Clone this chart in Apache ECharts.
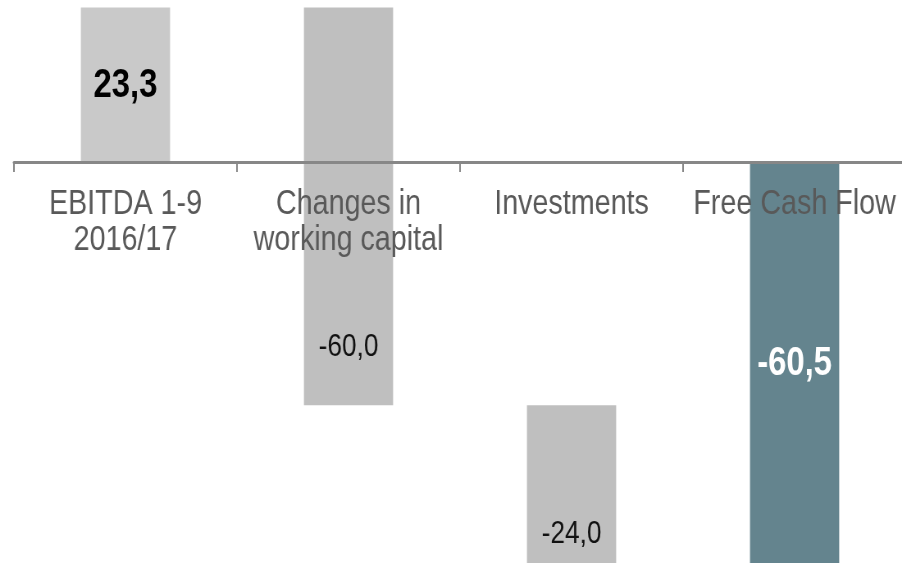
<!DOCTYPE html>
<html>
<head>
<meta charset="utf-8">
<script src="https://cdn.jsdelivr.net/npm/echarts@6/dist/echarts.min.js"></script>
<style>
  html, body { margin: 0; padding: 0; background: #fff; overflow: hidden; }
  #wrap { width: 902px; height: 563px; overflow: hidden; }
  /* the source uses a narrow font: draw wide, squeeze horizontally */
  #chart { width: 1100px; height: 563px; transform: scaleX(0.82); transform-origin: 0 0; }
</style>
</head>
<body>
<div id="wrap"><div id="chart"></div></div>
<script>
// waterfall: ebitda -> free cash flow
var categories = ['EBITDA 1-9\n2016/17', 'Changes in\nworking capital', 'Investments', 'Free Cash Flow'];
var values = [23.3, -60.0, -24.0, -60.5];
var isTotal = [false, false, false, true];

var FONT = '"Liberation Sans", Arial, sans-serif';

// base for each bar = running sum before it (totals start at 0)
var bases = [];
var running = 0, lowest = 0, highest = 0;
for (var i = 0; i < values.length; i++) {
    if (isTotal[i]) {
        bases.push(0);
    } else {
        bases.push(Math.round(running * 10) / 10);
        running += values[i];
    }
    var end = (isTotal[i] ? 0 : bases[i]) + values[i];
    lowest = Math.min(lowest, end);
    highest = Math.max(highest, end);
}
var yMin = Math.round(lowest * 10) / 10;
var yMax = Math.round(highest * 10) / 10;

var gridTop = 7.5, gridBottom = -1.5;
var gridH = 563 - gridTop - gridBottom;
// put the category axis on the zero line
var axisOffset = -gridH * (0 - yMin) / (yMax - yMin);

var barColors = ['#c9c9c9', '#bfbfbf', '#bfbfbf', '#64848e'];
var labelStyles = [
    {fontWeight: 'bold', fontSize: 40, color: '#000', offset: [0, 1]},
    {fontWeight: 'normal', fontSize: 32, color: '#111', offset: [0, 141]},
    {fontWeight: 'normal', fontSize: 32, color: '#111', offset: [0, 49]},
    {fontWeight: 'bold', fontSize: 40, color: '#fff', offset: [0, 1]}
];

var visibleData = values.map(function (v, i) {
    return {
        value: v,
        itemStyle: {color: barColors[i]},
        label: labelStyles[i]
    };
});

var chart = echarts.init(document.getElementById('chart'));
chart.setOption({
    animation: false,
    grid: {left: 17, right: -5, top: gridTop, bottom: gridBottom, outerBoundsMode: 'none'},
    xAxis: {
        type: 'category',
        data: categories,
        z: 10,
        offset: axisOffset,
        axisLine: {onZero: false, lineStyle: {color: '#878787', width: 3}},
        axisTick: {show: true, length: 10, lineStyle: {color: '#878787', width: 2}},
        axisLabel: {
            color: '#595959',
            fontFamily: FONT,
            fontSize: 35,
            lineHeight: 36,
            margin: 24,
            interval: 0
        },
        splitLine: {show: false}
    },
    yAxis: {
        type: 'value',
        min: yMin,
        max: yMax,
        show: false,
        splitLine: {show: false}
    },
    series: [
        {
            type: 'bar',
            stack: 'wf',
            stackStrategy: 'all',
            barWidth: '40%',
            itemStyle: {color: 'transparent'},
            emphasis: {disabled: true},
            data: bases
        },
        {
            type: 'bar',
            stack: 'wf',
            stackStrategy: 'all',
            barWidth: '40%',
            data: visibleData,
            label: {
                show: true,
                position: 'inside',
                fontFamily: FONT,
                formatter: function (p) {
                    return p.value.toFixed(1).replace('.', ',');
                }
            }
        }
    ]
});
</script>
</body>
</html>
